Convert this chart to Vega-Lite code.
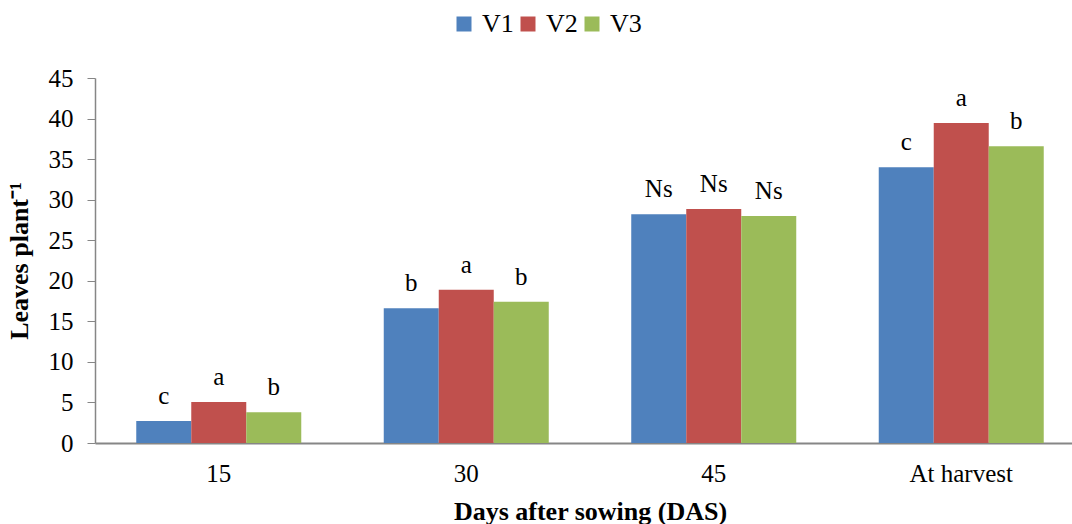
{
  "$schema": "https://vega.github.io/schema/vega-lite/v6.json",
  "autosize": {"type": "none"},
  "padding": {"left": 95, "top": 78, "right": 0, "bottom": 81},
  "width": 990,
  "height": 365,
  "background": "white",
  "config": {
    "view": {"stroke": null},
    "font": "Liberation Serif"
  },
  "data": {
    "values": [
      {"day": "15", "var": "V1", "value": 2.7, "sig": "c"},
      {"day": "15", "var": "V2", "value": 5.05, "sig": "a"},
      {"day": "15", "var": "V3", "value": 3.8, "sig": "b"},
      {"day": "30", "var": "V1", "value": 16.6, "sig": "b"},
      {"day": "30", "var": "V2", "value": 18.9, "sig": "a"},
      {"day": "30", "var": "V3", "value": 17.4, "sig": "b"},
      {"day": "45", "var": "V1", "value": 28.2, "sig": "Ns"},
      {"day": "45", "var": "V2", "value": 28.85, "sig": "Ns"},
      {"day": "45", "var": "V3", "value": 28.0, "sig": "Ns"},
      {"day": "At harvest", "var": "V1", "value": 34.0, "sig": "c"},
      {"day": "At harvest", "var": "V2", "value": 39.45, "sig": "a"},
      {"day": "At harvest", "var": "V3", "value": 36.6, "sig": "b"}
    ]
  },
  "encoding": {
    "x": {
      "field": "day", "type": "nominal", "sort": null,
      "scale": {"paddingInner": 0.3333, "paddingOuter": 0.1667},
      "axis": {
        "title": "Days after sowing (DAS)",
        "titleFont": "Liberation Serif", "titleFontSize": 26, "titleFontWeight": "bold", "titleColor": "black",
        "titlePadding": 12, "titleX": 495,
        "labelFont": "Liberation Serif", "labelFontSize": 25, "labelColor": "black", "labelAngle": 0,
        "labelPadding": 18, "ticks": false, "domainColor": "#868686", "domainWidth": 2
      }
    },
    "xOffset": {"field": "var", "type": "nominal"},
    "y": {
      "field": "value", "type": "quantitative",
      "scale": {"domain": [0, 45]},
      "axis": {
        "title": "Leaves plant⁻¹",
        "titleFont": "Liberation Serif", "titleFontSize": 26, "titleFontWeight": "bold", "titleColor": "black",
        "titlePadding": 16,
        "values": [0, 5, 10, 15, 20, 25, 30, 35, 40, 45],
        "labelFont": "Liberation Serif", "labelFontSize": 25, "labelColor": "black",
        "labelPadding": 14, "tickSize": 8, "tickColor": "#868686", "domainColor": "#868686", "domainWidth": 1.5,
        "grid": false
      }
    }
  },
  "layer": [
    {
      "mark": {"type": "bar"},
      "encoding": {
        "color": {
          "field": "var", "type": "nominal",
          "scale": {"domain": ["V1", "V2", "V3"], "range": ["#4F81BD", "#C0504D", "#9BBB59"]},
          "legend": {
            "title": null, "orient": "none", "direction": "horizontal",
            "legendX": 356, "legendY": -67,
            "symbolType": "square", "symbolSize": 225, "symbolStrokeWidth": 0,
            "labelFont": "Liberation Serif", "labelFontSize": 26, "labelColor": "black",
            "columnPadding": 1, "labelOffset": 5
          }
        }
      }
    },
    {
      "mark": {"type": "text", "baseline": "alphabetic", "dy": -17, "fontSize": 25, "font": "Liberation Serif", "color": "black"},
      "encoding": {"text": {"field": "sig"}}
    }
  ]
}
